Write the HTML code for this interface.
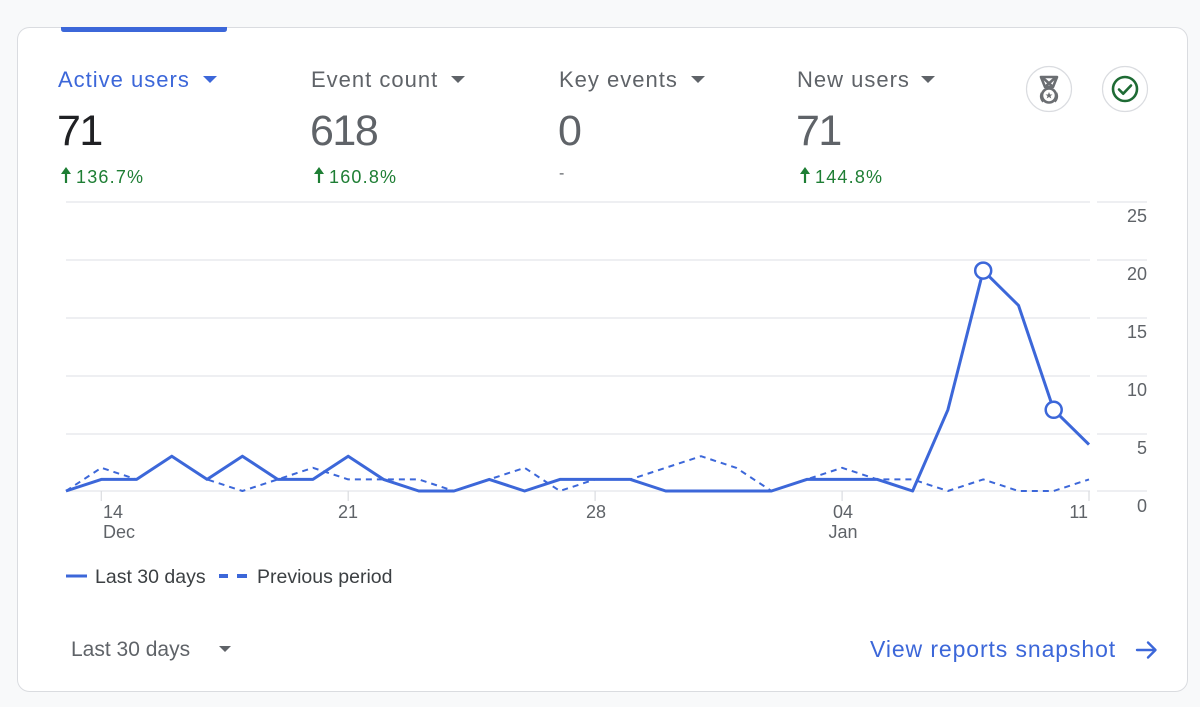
<!DOCTYPE html>
<html>
<head>
<meta charset="utf-8">
<style>
  html,body{margin:0;padding:0;background:#f8f9fa;}
  body{width:1200px;height:707px;overflow:hidden;position:relative;font-family:"Liberation Sans",Arial,sans-serif;}
  svg{position:absolute;left:0;top:0;}
</style>
</head>
<body>
<svg width="1200" height="707" viewBox="0 0 1200 707" xmlns="http://www.w3.org/2000/svg" font-family="Liberation Sans, Arial, sans-serif">
  <!-- card -->
  <rect x="17.5" y="27.5" width="1170" height="664" rx="12" ry="12" fill="#ffffff" stroke="#dadce0" stroke-width="1"/>
  <!-- selected tab bar -->
  <path d="M61 27 H227 V29 Q227 32 224 32 H64 Q61 32 61 29 Z" fill="#3c67d9"/>

  <!-- headers -->
  <g font-size="22" letter-spacing="1">
    <text x="58" y="87" fill="#3c67d9">Active users</text>
    <text x="311" y="87" fill="#5f6368">Event count</text>
    <text x="559" y="87" fill="#5f6368">Key events</text>
    <text x="797" y="87" fill="#5f6368">New users</text>
  </g>
  <polygon points="203,76 217,76 210,83" fill="#3c67d9"/>
  <polygon points="451,76 465,76 458,83" fill="#5f6368"/>
  <polygon points="691,76 705,76 698,83" fill="#5f6368"/>
  <polygon points="921,76 935,76 928,83" fill="#5f6368"/>

  <!-- big numbers -->
  <g font-size="43" letter-spacing="-1.5">
    <text x="57" y="145" fill="#202124">71</text>
    <text x="310" y="145" fill="#5f6368">618</text>
    <text x="558" y="145" fill="#5f6368">0</text>
    <text x="796" y="145" fill="#5f6368">71</text>
  </g>

  <!-- percentages -->
  <g fill="#1e7e34" stroke="#1e7e34">
    <line x1="66" y1="183" x2="66" y2="171" stroke-width="2.2"/>
    <polygon points="61,174 71,174 66,167" stroke="none"/>
    <line x1="319" y1="183" x2="319" y2="171" stroke-width="2.2"/>
    <polygon points="314,174 324,174 319,167" stroke="none"/>
    <line x1="805" y1="183" x2="805" y2="171" stroke-width="2.2"/>
    <polygon points="800,174 810,174 805,167" stroke="none"/>
  </g>
  <g font-size="18" letter-spacing="1.2" fill="#1e7e34">
    <text x="76" y="183">136.7%</text>
    <text x="329" y="183">160.8%</text>
    <text x="815" y="183">144.8%</text>
  </g>
  <text x="559" y="178" font-size="16" fill="#5f6368">-</text>

  <!-- icons -->
  <circle cx="1049" cy="89" r="22.5" fill="#fff" stroke="#dadce0" stroke-width="1.2"/>
  <g fill="none" stroke="#6b6e72" stroke-width="2.6" stroke-linejoin="round">
    <path d="M1041 77 L1057 77 L1053 87 L1045 87 Z"/>
    <path d="M1042 77 L1053 87 M1056 77 L1045 87"/>
    <circle cx="1049" cy="95.5" r="7"/>
    <path d="M1042 93 A7 7 0 0 0 1043.5 101.5"/>
    <path d="M1056 93 A7 7 0 0 1 1054.5 101.5"/>
  </g>
  <polygon points="1049,92 1050,94.5 1052.5,94.5 1050.5,96 1051.3,98.5 1049,97 1046.7,98.5 1047.5,96 1045.5,94.5 1048,94.5" fill="#6b6e72"/>
  <circle cx="1125" cy="89" r="22.5" fill="#fff" stroke="#dadce0" stroke-width="1.2"/>
  <circle cx="1125" cy="89" r="12" fill="none" stroke="#1e6b34" stroke-width="2.6"/>
  <polyline points="1119,89.5 1123.2,93.7 1131,85.5" fill="none" stroke="#1e6b34" stroke-width="2.6" stroke-linecap="round" stroke-linejoin="round"/>

  <!-- gridlines -->
  <g stroke="#e8eaed" stroke-width="1.5">
    <line x1="66" y1="202" x2="1090" y2="202"/><line x1="1097" y1="202" x2="1147" y2="202"/>
    <line x1="66" y1="260" x2="1090" y2="260"/><line x1="1097" y1="260" x2="1147" y2="260"/>
    <line x1="66" y1="318" x2="1090" y2="318"/><line x1="1097" y1="318" x2="1147" y2="318"/>
    <line x1="66" y1="376" x2="1090" y2="376"/><line x1="1097" y1="376" x2="1147" y2="376"/>
    <line x1="66" y1="434" x2="1090" y2="434"/><line x1="1097" y1="434" x2="1147" y2="434"/>
    <line x1="66" y1="491" x2="1090" y2="491"/><line x1="1097" y1="491" x2="1147" y2="491"/>
  </g>
  <!-- x ticks -->
  <g stroke="#dadce0" stroke-width="1.2">
    <line x1="101.3" y1="491" x2="101.3" y2="501"/>
    <line x1="348.2" y1="491" x2="348.2" y2="501"/>
    <line x1="595.1" y1="491" x2="595.1" y2="501"/>
    <line x1="842.1" y1="491" x2="842.1" y2="501"/>
    <line x1="1089" y1="491" x2="1089" y2="501"/>
  </g>

  <!-- y labels -->
  <g font-size="18" fill="#5f6368" text-anchor="end">
    <text x="1147" y="222">25</text>
    <text x="1147" y="280">20</text>
    <text x="1147" y="338">15</text>
    <text x="1147" y="396">10</text>
    <text x="1147" y="454">5</text>
    <text x="1147" y="512">0</text>
  </g>
  <!-- x labels -->
  <g font-size="18" fill="#5f6368">
    <text x="103" y="518">14</text>
    <text x="103" y="538">Dec</text>
    <text x="348" y="518" text-anchor="middle">21</text>
    <text x="596" y="518" text-anchor="middle">28</text>
    <text x="843" y="518" text-anchor="middle">04</text>
    <text x="843" y="538" text-anchor="middle">Jan</text>
    <text x="1088" y="518" text-anchor="end">11</text>
  </g>

  <!-- previous period (dashed) -->
  <polyline fill="none" stroke="#3c67d9" stroke-width="2" stroke-dasharray="6,5" stroke-linejoin="round"
    points="66,491 101.3,467.8 136.6,479.4 171.8,456.2 207.1,479.4 242.4,491 277.7,479.4 312.9,467.8 348.2,479.4 383.5,479.4 418.8,479.4 454,491 489.3,479.4 524.6,467.8 559.9,491 595.1,479.4 630.4,479.4 665.7,467.8 701,456.2 736.2,467.8 771.5,491 806.8,479.4 842.1,467.8 877.3,479.4 912.6,479.4 947.9,491 983.2,479.4 1018.5,491 1053.7,491 1089,479.4"/>
  <!-- last 30 days (solid) -->
  <polyline fill="none" stroke="#3c67d9" stroke-width="3" stroke-linejoin="round"
    points="66,491 101.3,479.4 136.6,479.4 171.8,456.2 207.1,479.4 242.4,456.2 277.7,479.4 312.9,479.4 348.2,456.2 383.5,479.4 418.8,491 454,491 489.3,479.4 524.6,491 559.9,479.4 595.1,479.4 630.4,479.4 665.7,491 701,491 736.2,491 771.5,491 806.8,479.4 842.1,479.4 877.3,479.4 912.6,491 947.9,409.8 983.2,270.6 1018.5,305.4 1053.7,409.8 1089,444.6"/>
  <circle cx="983.2" cy="270.6" r="8" fill="#fff" stroke="#3c67d9" stroke-width="2.5"/>
  <circle cx="1053.7" cy="409.8" r="8" fill="#fff" stroke="#3c67d9" stroke-width="2.5"/>

  <!-- legend -->
  <line x1="66" y1="576" x2="87" y2="576" stroke="#3c67d9" stroke-width="3"/>
  <text x="95" y="583" font-size="19.5" fill="#3c4043">Last 30 days</text>
  <rect x="219" y="574" width="9" height="4" fill="#3c67d9"/>
  <rect x="237" y="574" width="10" height="4" fill="#3c67d9"/>
  <text x="257" y="583" font-size="19.5" fill="#3c4043">Previous period</text>

  <!-- bottom -->
  <text x="71" y="656" font-size="21" fill="#5f6368">Last 30 days</text>
  <polygon points="219,646 231,646 225,652" fill="#5f6368"/>
  <text x="870" y="657" font-size="23" letter-spacing="0.9" fill="#3c67d9">View reports snapshot</text>
  <g stroke="#3c67d9" stroke-width="2.4" fill="none" stroke-linecap="round" stroke-linejoin="round">
    <line x1="1137" y1="650" x2="1155" y2="650"/>
    <polyline points="1148,642.5 1155.5,650 1148,657.5"/>
  </g>
</svg>
</body>
</html>
